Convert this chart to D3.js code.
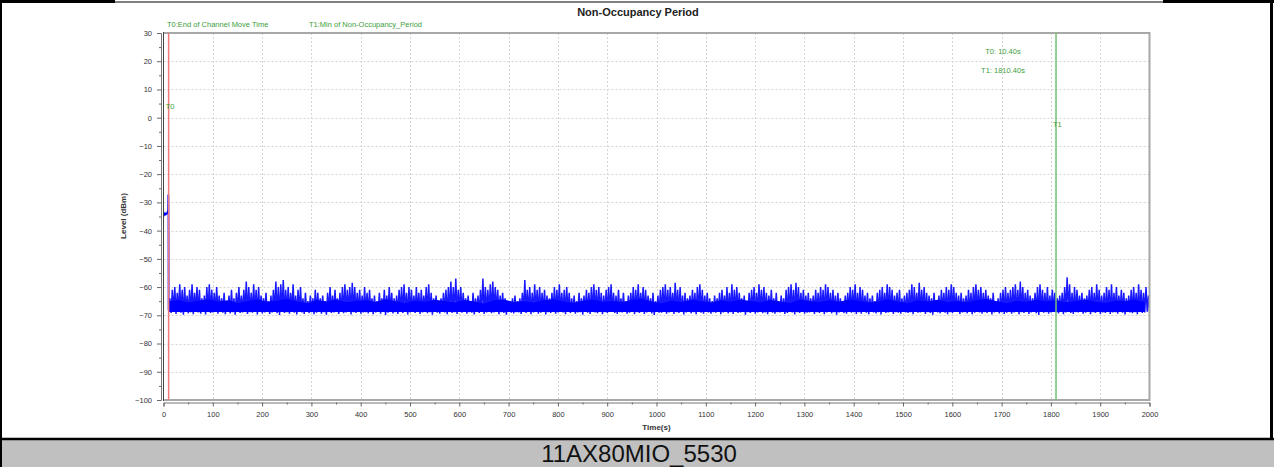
<!DOCTYPE html>
<html>
<head>
<meta charset="utf-8">
<script src="https://cdn.jsdelivr.net/npm/d3@7"></script>
<style>
    body { margin: 0; background: #fff; }
    svg { display: block; font-family: "Liberation Sans", Arial, sans-serif; }
</style>
</head>
<body>
<svg width="1274" height="467"></svg>
<script>
// trace before the channel move ends (seconds, dBm)
const startTimes = [0, 1.5, 3, 4.5, 6, 7.5, 8.6, 9.4, 9.8, 10.1, 10.4];
const startLevels = [-34, -34.4, -33.9, -34.3, -34.1, -33.8, -33.2, -33.4, -27.2, -33.5, -68];

// noise after T0: one low / high pair per 5 s bin, starting at 10.4 s
const noiseStart = 10.4;
const noiseStep = 5;
const noiseHigh = [
    -64, -61, -60, -62, -59, -61, -60, -63, -61, -59, -62, -60, -61, -64, -63, -60, -59, -61, -62, -60,
    -63, -64, -62, -65, -63, -61, -64, -62, -60, -63, -61, -58, -60, -62, -59, -61, -60, -63, -64, -62,
    -65, -63, -61, -58, -60, -59, -57.5, -61, -60, -62, -59, -63, -61, -60, -64, -62, -65, -63, -64, -61,
    -62, -64, -63, -65, -62, -60, -63, -61, -64, -62, -60, -59, -61, -60, -58.5, -60, -62, -61, -63, -60,
    -62, -61, -64, -63, -65, -62, -64, -61, -63, -60, -62, -64, -63, -61, -60, -59, -62, -60, -61, -63,
    -60, -62, -61, -63, -60, -59, -62, -64, -63, -65, -64, -62, -61, -60, -58, -60, -57, -61, -60, -62,
    -64, -63, -65, -62, -64, -63, -61, -57, -60, -61, -59, -58, -60, -61, -63, -62, -64, -66, -65, -64,
    -63, -65, -64, -62, -57.5, -61, -60, -62, -59, -61, -60, -62, -61, -63, -64, -62, -60, -61, -59, -62,
    -61, -60, -62, -64, -63, -65, -62, -64, -63, -61, -62, -60, -59, -61, -60, -62, -63, -61, -60, -59,
    -62, -63, -61, -64, -62, -65, -63, -62, -60, -61, -59, -62, -60, -61, -63, -64, -62, -65, -63, -61,
    -60, -59, -61, -60, -62, -58.5, -61, -60, -63, -62, -64, -63, -61, -62, -60, -59, -61, -63, -62, -64,
    -65, -63, -64, -62, -61, -63, -60, -62, -59, -61, -60, -62, -64, -63, -65, -62, -61, -60, -62, -59,
    -61, -60, -62, -63, -61, -64, -62, -65, -63, -64, -61, -60, -59, -61, -58.5, -60, -62, -61, -63, -62,
    -64, -63, -61, -62, -60, -61, -59, -60, -62, -61, -63, -62, -64, -65, -63, -62, -60, -61, -59, -62,
    -60, -61, -63, -62, -64, -63, -65, -62, -61, -60, -62, -59, -60, -61, -63, -62, -61, -64, -63, -62,
    -61, -59, -60, -62, -58.5, -61, -60, -62, -63, -64, -62, -65, -63, -61, -62, -60, -61, -59, -60, -62,
    -63, -62, -64, -63, -61, -62, -60, -59, -61, -60, -62, -61, -63, -64, -62, -65, -64, -62, -61, -60,
    -62, -61, -60, -59, -61, -58, -60, -62, -61, -63, -64, -62, -60, -59, -61, -62, -60, -63, -61, -62,
    -64, -63, -62, -60, -56.5, -59, -62, -60, -61, -63, -62, -64, -63, -61, -60, -62, -59, -61, -63, -62,
    -60, -61, -59, -62, -60, -63, -61, -62, -64, -63, -61, -60, -62, -59, -61, -62, -60, -63, -61, -62
];
const noiseLow = [
    -68.5, -69.2, -68.8, -69.5, -68.6, -69.1, -69.8, -68.7, -69.3, -68.9, -69.6, -68.5, -69.0, -69.4, -68.8, -69.7, -68.6, -69.2, -69.0, -68.7,
    -69.4, -68.8, -69.1, -69.6, -68.5, -69.3, -68.9, -69.8, -68.7, -69.2, -69.0, -68.6, -69.5, -68.9, -69.1, -68.7, -69.7, -68.8, -69.3, -69.0,
    -68.8, -69.5, -69.0, -68.6, -69.3, -69.9, -68.7, -69.2, -68.9, -69.4, -68.6, -69.1, -69.7, -68.8, -69.0, -69.5, -68.7, -69.2, -68.9, -69.6,
    -69.1, -68.7, -69.4, -68.9, -69.8, -68.6, -69.2, -69.0, -68.8, -69.5, -68.7, -69.3, -69.0, -68.6, -69.7, -68.9, -69.2, -68.8, -69.4, -69.0,
    -68.9, -69.3, -68.7, -69.6, -69.0, -68.8, -69.4, -68.6, -69.9, -69.1, -68.7, -69.3, -68.9, -69.5, -68.8, -69.2, -68.6, -69.7, -69.0, -68.8,
    -69.2, -68.8, -69.5, -69.0, -68.6, -69.3, -68.9, -69.8, -68.7, -69.1, -69.4, -68.8, -69.0, -69.6, -68.7, -69.2, -68.9, -69.5, -68.6, -69.1,
    -68.7, -69.4, -68.9, -69.1, -69.7, -68.8, -69.2, -68.6, -69.5, -69.0, -68.8, -69.3, -69.0, -68.7, -69.6, -68.9, -69.2, -69.8, -68.8, -69.1,
    -69.3, -68.9, -69.0, -69.5, -68.7, -69.2, -68.8, -69.6, -69.0, -68.7, -69.4, -69.1, -68.8, -69.7, -68.9, -69.2, -68.6, -69.4, -69.0, -68.8,
    -69.0, -69.6, -68.8, -69.2, -68.7, -69.4, -69.0, -68.9, -69.8, -68.7, -69.1, -69.5, -68.8, -69.0, -69.3, -68.6, -69.6, -68.9, -69.2, -68.8,
    -68.8, -69.2, -69.5, -68.9, -69.0, -68.7, -69.4, -69.1, -68.8, -69.6, -68.9, -69.2, -68.7, -69.5, -69.0, -68.8, -69.3, -69.9, -68.7, -69.1,
    -69.1, -68.8, -69.4, -69.0, -68.7, -69.5, -68.9, -69.2, -68.8, -69.7, -69.0, -68.6, -69.3, -68.9, -69.6, -68.8, -69.1, -69.4, -68.7, -69.0,
    -69.4, -68.9, -69.1, -68.7, -69.6, -69.0, -68.8, -69.3, -68.9, -69.5, -68.7, -69.2, -69.0, -68.8, -69.8, -68.9, -69.2, -68.7, -69.4, -69.0,
    -68.7, -69.3, -69.0, -69.6, -68.8, -69.1, -69.4, -68.9, -69.0, -68.7, -69.5, -69.2, -68.8, -69.0, -69.7, -68.9, -69.2, -68.8, -69.4, -69.1,
    -69.0, -68.8, -69.5, -68.9, -69.2, -68.7, -69.6, -69.0, -68.8, -69.3, -68.9, -69.8, -69.0, -68.7, -69.2, -69.4, -68.8, -69.1, -68.9, -69.5,
    -68.9, -69.4, -68.7, -69.1, -69.6, -68.8, -69.0, -69.3, -68.9, -69.7, -68.8, -69.2, -69.0, -68.7, -69.5, -68.9, -69.1, -69.4, -68.8, -69.0,
    -69.2, -68.9, -69.6, -68.8, -69.1, -69.0, -68.7, -69.5, -68.9, -69.2, -69.8, -68.8, -69.0, -69.3, -68.7, -69.1, -69.6, -68.9, -69.2, -68.8,
    -68.8, -69.5, -69.0, -68.9, -69.3, -68.7, -69.6, -69.1, -68.8, -69.0, -69.4, -68.9, -69.2, -68.7, -69.7, -69.0, -68.8, -69.3, -68.9, -69.5,
    -69.1, -68.8, -69.4, -69.0, -68.7, -69.6, -68.9, -69.2, -68.8, -69.5, -69.0, -68.7, -69.3, -69.9, -68.8, -69.1, -68.9, -69.4, -69.0, -68.8,
    -68.9, -69.3, -68.8, -69.6, -69.0, -68.7, -69.2, -69.5, -68.9, -69.0, -68.8, -69.4, -69.1, -68.7, -69.6, -68.9, -69.2, -68.8, -69.5, -69.0,
    -69.2, -68.8, -69.5, -69.0, -68.9, -69.4, -68.7, -69.1, -69.7, -68.8, -69.0, -69.3, -68.9, -69.6, -68.8, -69.2, -69.0, -68.7, -69.4, -69.1
];
// top of the dense part of the noise band, one value per 20 s from 10.4 s
const bodyStep = 20;
const noiseBody = [
    -65.0, -64.6, -65.5, -64.8, -64.3, -65.1, -64.7, -65.6, -64.9, -64.4, -65.2, -64.8, -64.2, -65.0, -65.7, -64.6, -65.1, -64.4, -65.4, -64.9,
    -64.7, -65.3, -64.3, -65.0, -65.6, -64.8, -65.2, -64.5, -64.9, -65.5, -64.6, -65.1, -65.8, -64.7, -64.4, -65.3, -64.9, -65.5, -64.7, -64.3,
    -65.0, -65.6, -64.8, -64.5, -65.2, -64.9, -65.4, -64.6, -64.2, -65.1, -65.7, -64.8, -65.3, -64.5, -65.0, -65.5, -64.7, -65.2, -64.4, -64.9,
    -65.4, -64.6, -65.1, -65.6, -64.5, -64.9, -65.3, -64.7, -65.2, -64.4, -64.8, -65.5, -65.0, -64.3, -65.2, -65.6, -64.7, -65.1, -64.5, -65.3,
    -64.9, -65.4, -64.6, -64.2, -65.0, -65.7, -64.8, -65.2, -64.5, -65.1, -64.7, -65.4, -64.9, -64.4, -65.2, -65.6, -64.8, -65.0, -64.5, -65.3
];
const bodyBase = -68.8;

// markers
const markerNames = ["T0", "T1"];
const markerTimes = [10.4, 1810.4];
const markerColors = ["#f07878", "#74c074"];
const legendTexts = ["T0:End of Channel Move Time", "T1:Min of Non-Occupancy_Period"];
const readoutTexts = ["T0: 10.40s", "T1: 1810.40s"];

const xMajorTicks = d3.range(0, 2001, 100);
const xMinorTicks = d3.range(50, 2000, 100);
const yMajorTicks = d3.range(-100, 31, 10);
const yMinorTicks = d3.range(-95, 30, 10);

const chartTitle = "Non-Occupancy Period";
const caption = "11AX80MIO_5530";

const svg = d3.select("svg");
const width = +svg.attr("width");
const height = +svg.attr("height");

const plot = { left: 163.5, right: 1149.5, top: 33, bottom: 400 };

const x = d3.scaleLinear().domain([0, 2000]).range([plot.left, plot.right]);
const y = d3.scaleLinear().domain([-100, 30]).range([plot.bottom, plot.top]);

const render = () => {
    // caption strip
    svg.append("rect").attr("x", 0).attr("y", 439).attr("width", width).attr("height", height - 439)
        .attr("fill", "#c0c0c0");
    svg.append("line").attr("x1", 0).attr("x2", width).attr("y1", 439).attr("y2", 439)
        .attr("stroke", "#000").attr("stroke-width", 2.5);
    svg.append("text")
        .attr("x", 639).attr("y", 462)
        .attr("text-anchor", "middle")
        .attr("font-size", 24)
        .attr("fill", "#111")
        .text(caption);

    // outer frame
    svg.append("line").attr("x1", 0).attr("x2", 115).attr("y1", 1.5).attr("y2", 1.5)
        .attr("stroke", "#000").attr("stroke-width", 3);
    svg.append("line").attr("x1", 115).attr("x2", 1163).attr("y1", 2).attr("y2", 2)
        .attr("stroke", "#000").attr("stroke-width", 1);
    svg.append("line").attr("x1", 1163).attr("x2", width).attr("y1", 1.5).attr("y2", 1.5)
        .attr("stroke", "#000").attr("stroke-width", 3);
    svg.append("line").attr("x1", 1).attr("x2", 1).attr("y1", 0).attr("y2", height)
        .attr("stroke", "#000").attr("stroke-width", 2);
    svg.append("line").attr("x1", 1271.5).attr("x2", 1271.5).attr("y1", 0).attr("y2", 439)
        .attr("stroke", "#000").attr("stroke-width", 3);

    // grid
    const grid = svg.append("g").attr("stroke", "#d4d4d4").attr("stroke-dasharray", "2,2").attr("stroke-width", 1);
    grid.selectAll(".vg").data(xMajorTicks.slice(1, -1)).enter().append("line")
        .attr("x1", d => Math.round(x(d)) + 0.5).attr("x2", d => Math.round(x(d)) + 0.5)
        .attr("y1", plot.top).attr("y2", plot.bottom);
    grid.selectAll(".hg").data(yMajorTicks.slice(1, -1)).enter().append("line")
        .attr("x1", plot.left).attr("x2", plot.right)
        .attr("y1", d => Math.round(y(d)) + 0.5).attr("y2", d => Math.round(y(d)) + 0.5);

    // trace
    svg.append("clipPath").attr("id", "clip").append("rect")
        .attr("x", plot.left).attr("y", plot.top)
        .attr("width", plot.right - plot.left).attr("height", plot.bottom - plot.top);
    const trace = svg.append("g").attr("clip-path", "url(#clip)");

    const line = d3.line().x(d => x(d[0])).y(d => y(d[1]));

    trace.append("path")
        .datum(startTimes.map((t, i) => [t, startLevels[i]]))
        .attr("fill", "none")
        .attr("stroke", "#0000ff")
        .attr("stroke-width", 1.8)
        .attr("d", line);

    const spikes = [];
    noiseLow.forEach((lo, i) => {
        const t = noiseStart + i * noiseStep;
        spikes.push([t, lo]);
        spikes.push([t + noiseStep / 2, noiseHigh[i]]);
    });
    trace.append("path")
        .datum(spikes)
        .attr("fill", "none")
        .attr("stroke", "#0000ff")
        .attr("stroke-opacity", 0.9)
        .attr("stroke-width", 1.5)
        .attr("d", line);

    trace.append("path")
        .datum(noiseBody.map((v, i) => [noiseStart + i * bodyStep, v]))
        .attr("fill", "#0000ff")
        .attr("d", d3.area().x(d => x(d[0])).y0(y(bodyBase)).y1(d => y(d[1])));

    // plot border
    svg.append("path")
        .attr("d", `M${plot.left},${plot.top}H${plot.right}V${plot.bottom}H${plot.left}`)
        .attr("fill", "none").attr("stroke", "#a8a8a8").attr("stroke-width", 2);
    svg.append("line").attr("x1", plot.left).attr("x2", plot.left).attr("y1", plot.top - 1).attr("y2", plot.bottom + 1)
        .attr("stroke", "#444").attr("stroke-width", 1);

    // markers
    markerTimes.forEach((t, i) => {
        svg.append("line")
            .attr("x1", x(t)).attr("x2", x(t))
            .attr("y1", plot.top).attr("y2", plot.bottom)
            .attr("stroke", markerColors[i]).attr("stroke-width", 1.5);
    });
    const green = "#3c9e3c";
    svg.append("text").attr("x", x(markerTimes[0]) - 3).attr("y", 109)
        .attr("font-size", 7.5).attr("fill", green).text(markerNames[0]);
    svg.append("text").attr("x", x(markerTimes[1]) - 3).attr("y", 127)
        .attr("font-size", 7.5).attr("fill", green).text(markerNames[1]);
    svg.append("text").attr("x", 167).attr("y", 27)
        .attr("font-size", 7.5).attr("fill", green).text(legendTexts[0]);
    svg.append("text").attr("x", 309).attr("y", 27)
        .attr("font-size", 7.5).attr("fill", green).text(legendTexts[1]);
    svg.append("text").attr("x", 1003).attr("y", 54).attr("text-anchor", "middle")
        .attr("font-size", 7.5).attr("fill", green).text(readoutTexts[0]);
    svg.append("text").attr("x", 1003).attr("y", 73).attr("text-anchor", "middle")
        .attr("font-size", 7.5).attr("fill", green).text(readoutTexts[1]);

    // axes
    svg.append("g").attr("transform", `translate(0,${plot.bottom + 2.5})`)
        .call(d3.axisBottom(x).tickValues(xMajorTicks).tickSize(4).tickPadding(5).tickFormat(d3.format("d")));
    svg.append("g").attr("transform", `translate(0,${plot.bottom + 2.5})`)
        .call(d3.axisBottom(x).tickValues(xMinorTicks).tickSize(2).tickFormat(""))
        .select(".domain").remove();
    svg.append("g").attr("transform", `translate(${plot.left - 2.5},0)`)
        .call(d3.axisLeft(y).tickValues(yMajorTicks).tickSize(4).tickPadding(5).tickFormat(d3.format("d")));
    svg.append("g").attr("transform", `translate(${plot.left - 2.5},0)`)
        .call(d3.axisLeft(y).tickValues(yMinorTicks).tickSize(2).tickFormat(""))
        .select(".domain").remove();
    svg.selectAll(".domain").attr("stroke", "#777");
    svg.selectAll(".tick line").attr("stroke", "#666");
    svg.selectAll(".tick text").attr("font-size", 7.5).attr("fill", "#333");

    // titles
    svg.append("text").attr("x", 638).attr("y", 16).attr("text-anchor", "middle")
        .attr("font-size", 11).attr("font-weight", "bold").attr("fill", "#222").text(chartTitle);
    svg.append("text").attr("x", (plot.left + plot.right) / 2).attr("y", 430).attr("text-anchor", "middle")
        .attr("font-size", 8).attr("font-weight", "bold").attr("fill", "#333").text("Time(s)");
    svg.append("text").attr("transform", `translate(126,216) rotate(-90)`).attr("text-anchor", "middle")
        .attr("font-size", 8).attr("font-weight", "bold").attr("fill", "#333").text("Level (dBm)");
};

render();
</script>
</body>
</html>
